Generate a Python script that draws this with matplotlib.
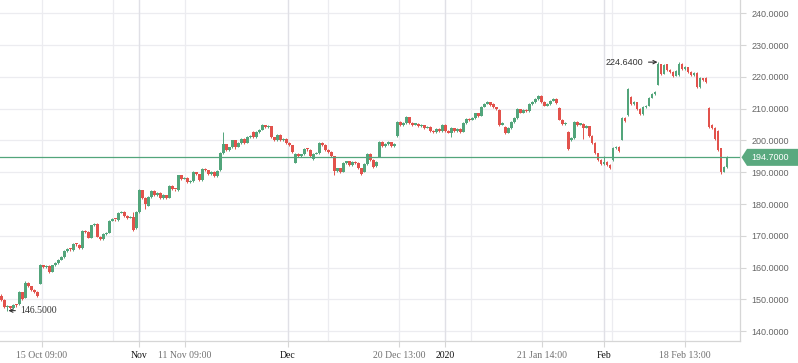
import matplotlib
matplotlib.use("Agg")
import matplotlib.pyplot as plt
from matplotlib.patches import Polygon
from matplotlib.transforms import IdentityTransform
import numpy as np

# candle data, one entry per bar
opens = [
    151.2, 149.8, 147.5, 147.8, 147.2, 148.3, 148.5, 152.3, 150.6, 155.3,
    154.2, 153.0, 152.4, 155.0, 160.8, 160.2, 160.6, 158.8, 160.7, 161.4,
    162.5, 163.4, 165.2, 165.9, 165.6, 167.5, 167.2, 166.1, 171.6, 171.2,
    169.4, 173.3, 173.8, 169.8, 169.0, 170.5, 171.0, 174.8, 175.2, 175.0,
    177.3, 177.5, 176.3, 175.7, 176.0, 172.5, 177.4, 184.3, 182.0, 179.5,
    182.2, 184.2, 182.8, 183.5, 181.8, 182.8, 182.0, 185.8, 184.6, 184.4,
    189.0, 188.0, 188.2, 186.8, 187.2, 190.0, 189.4, 187.5, 191.0, 190.6,
    189.4, 190.2, 188.7, 190.7, 196.0, 198.8, 197.0, 197.8, 200.0, 198.0,
    199.2, 200.5, 199.3, 201.0, 202.8, 201.0, 202.6, 203.4, 204.8, 204.2,
    204.5, 201.0, 200.0, 201.8, 200.0, 200.5, 199.3, 198.5, 193.0, 195.8,
    195.0, 195.6, 197.3, 197.0, 194.2, 195.8, 196.0, 199.2, 198.6, 197.0,
    196.4, 195.0, 190.3, 191.2, 190.2, 192.8, 193.4, 192.2, 193.3, 193.0,
    191.2, 190.2, 192.5, 195.8, 194.0, 192.0, 194.9, 199.5, 198.2, 198.8,
    199.4, 198.3, 201.4, 205.8, 204.8, 205.5, 207.3, 205.6, 205.0, 205.2,
    204.6, 204.8, 204.0, 204.4, 203.0, 202.6, 203.6, 203.0, 205.0, 203.0,
    202.5, 203.8, 203.0, 203.6, 202.8, 205.5, 206.9, 206.5, 207.0, 208.5,
    207.8, 210.6, 211.6, 212.0, 211.5, 210.4, 209.6, 205.0, 204.3, 202.4,
    203.8, 205.8, 207.0, 209.8, 208.8, 209.6, 209.2, 211.5, 212.0, 213.0,
    214.0, 212.2, 211.0, 211.4, 212.5, 213.2, 210.2, 206.6, 205.2, 202.8,
    200.2, 200.8, 205.8, 205.0, 205.3, 204.0, 204.5, 201.5, 199.2, 196.0,
    194.0, 192.5, 193.3, 192.4, 193.9, 197.6, 198.0, 200.2, 207.0, 208.0,
    213.8, 211.4, 212.0, 210.0, 208.3, 210.5, 211.0, 213.5, 214.6, 217.5,
    224.0, 221.0, 224.0, 222.2, 221.5, 220.4, 220.5, 224.2, 222.5, 223.0,
    221.6, 220.6, 221.2, 216.8, 219.6, 219.8, 210.2, 205.0, 204.0, 203.0,
    197.5, 190.2, 191.6,
]
highs = [
    151.6, 150.0, 148.2, 148.0, 148.6, 148.5, 152.6, 152.4, 155.7, 155.4,
    154.4, 153.2, 152.6, 161.1, 161.0, 160.9, 160.8, 161.0, 161.7, 162.8,
    163.7, 165.5, 166.3, 166.1, 167.9, 167.8, 167.4, 171.9, 171.9, 171.4,
    173.5, 174.0, 174.0, 170.0, 170.8, 171.3, 175.1, 175.5, 175.4, 177.6,
    177.8, 177.7, 176.5, 176.2, 177.5, 177.7, 184.6, 184.5, 182.2, 182.5,
    184.5, 184.4, 183.8, 183.7, 183.1, 183.0, 186.1, 186.0, 184.8, 189.3,
    189.2, 188.5, 188.4, 187.5, 190.3, 190.2, 189.6, 191.4, 191.3, 190.8,
    190.5, 190.4, 190.8, 196.3, 202.8, 199.0, 198.1, 200.3, 200.2, 199.5,
    200.8, 200.7, 201.3, 201.6, 203.0, 202.9, 203.7, 205.1, 205.0, 204.8,
    204.7, 201.2, 202.1, 202.0, 200.8, 200.7, 199.5, 198.7, 196.1, 196.0,
    195.9, 197.6, 197.5, 197.2, 196.1, 196.3, 199.6, 199.4, 198.8, 197.2,
    196.6, 195.2, 191.5, 191.4, 193.1, 193.7, 193.6, 193.6, 193.5, 193.2,
    191.4, 192.8, 196.1, 196.0, 194.2, 193.5, 199.8, 199.7, 199.1, 199.7,
    199.6, 199.2, 206.1, 206.0, 205.8, 207.6, 207.5, 205.8, 205.5, 205.4,
    205.1, 205.0, 204.7, 204.6, 203.2, 203.9, 203.8, 205.3, 205.2, 203.2,
    204.1, 204.0, 203.9, 203.8, 205.8, 207.2, 207.1, 207.3, 208.8, 208.7,
    210.9, 211.9, 212.3, 212.2, 211.7, 210.6, 209.8, 205.9, 204.5, 204.1,
    206.1, 207.3, 210.1, 210.0, 209.9, 209.8, 211.8, 212.3, 213.3, 214.3,
    214.2, 212.4, 211.7, 212.8, 213.5, 213.4, 210.4, 206.8, 205.9, 203.0,
    201.1, 206.1, 206.0, 205.6, 205.5, 204.8, 204.7, 201.7, 199.4, 196.2,
    194.2, 195.0, 193.5, 192.6, 197.9, 198.3, 198.2, 207.3, 207.5, 216.5,
    214.0, 212.3, 212.2, 210.2, 210.8, 211.3, 213.8, 214.9, 215.7, 224.64,
    224.2, 224.1, 224.2, 222.4, 221.7, 222.1, 224.6, 224.4, 223.3, 223.2,
    221.8, 221.5, 221.4, 219.9, 219.8, 220.0, 210.4, 205.2, 204.2, 203.2,
    197.7, 191.9, 195.0,
]
lows = [
    149.5, 147.2, 146.5, 146.9, 147.0, 147.6, 148.3, 149.9, 150.4, 153.9,
    152.8, 152.0, 150.9, 154.8, 159.9, 160.0, 158.2, 158.6, 160.5, 161.2,
    162.3, 163.2, 165.0, 165.3, 165.4, 166.9, 165.8, 166.0, 170.8, 169.2,
    169.2, 173.0, 169.5, 168.7, 168.8, 170.3, 170.8, 174.6, 174.7, 174.8,
    177.1, 176.0, 175.4, 175.5, 171.6, 172.3, 177.2, 181.7, 178.5, 179.3,
    182.0, 182.5, 182.6, 181.5, 181.6, 181.7, 181.8, 184.3, 184.1, 184.2,
    187.7, 187.8, 186.5, 186.6, 187.0, 189.1, 187.2, 187.3, 190.3, 189.1,
    189.2, 188.4, 188.5, 190.5, 195.8, 196.7, 196.8, 197.6, 197.3, 197.8,
    199.0, 199.0, 199.1, 200.8, 200.8, 200.8, 202.4, 203.2, 203.9, 204.0,
    200.7, 199.7, 199.8, 199.7, 199.8, 199.0, 198.2, 196.2, 192.8, 194.7,
    194.8, 195.4, 196.7, 194.9, 193.9, 195.6, 195.8, 198.3, 196.7, 196.1,
    194.9, 189.3, 190.0, 189.9, 190.0, 192.6, 191.9, 192.0, 192.5, 190.9,
    189.0, 190.0, 192.3, 193.7, 191.5, 191.8, 194.7, 197.9, 198.0, 198.6,
    198.0, 198.1, 201.2, 204.5, 204.6, 205.3, 205.3, 204.7, 204.8, 204.3,
    204.4, 203.7, 203.8, 202.7, 202.3, 202.4, 202.7, 202.8, 202.7, 202.2,
    201.2, 202.7, 202.8, 202.5, 202.6, 205.3, 206.2, 206.3, 206.8, 207.5,
    207.6, 210.4, 211.4, 211.0, 210.1, 209.7, 204.7, 204.8, 202.1, 202.2,
    203.6, 205.6, 206.8, 208.5, 208.6, 208.9, 209.0, 211.3, 211.8, 212.8,
    211.9, 210.7, 210.8, 211.2, 212.3, 211.5, 206.3, 204.9, 205.0, 196.9,
    199.9, 200.6, 204.7, 204.8, 200.5, 203.8, 201.2, 198.9, 195.7, 193.7,
    192.2, 192.3, 192.1, 191.0, 193.7, 197.4, 196.5, 200.0, 205.7, 207.8,
    211.1, 211.2, 209.7, 208.0, 208.1, 210.3, 210.8, 213.3, 214.4, 217.3,
    220.6, 220.8, 221.9, 221.2, 220.1, 220.2, 220.3, 222.2, 222.3, 221.3,
    220.3, 220.4, 216.5, 216.6, 218.7, 218.0, 203.9, 203.7, 200.2, 196.7,
    189.5, 190.0, 191.4,
]
closes = [
    149.8, 147.5, 147.8, 147.2, 148.3, 148.0, 152.3, 150.2, 155.3, 154.2,
    153.0, 152.4, 151.2, 160.8, 160.2, 160.6, 158.6, 160.7, 161.4, 162.5,
    163.4, 165.2, 165.9, 165.6, 167.5, 167.2, 166.1, 171.6, 171.2, 169.4,
    173.3, 173.8, 169.8, 169.0, 170.5, 171.0, 174.8, 175.2, 175.0, 177.3,
    177.5, 176.3, 175.7, 175.9, 172.0, 177.4, 184.3, 182.0, 180.0, 182.2,
    184.2, 182.8, 183.5, 181.8, 182.8, 182.0, 185.8, 184.6, 184.4, 189.0,
    188.0, 188.2, 186.8, 187.2, 190.0, 189.4, 187.5, 191.0, 190.6, 189.4,
    190.2, 188.7, 190.5, 196.0, 198.8, 197.0, 197.8, 200.0, 198.0, 199.2,
    200.5, 199.3, 201.0, 201.3, 201.0, 202.6, 203.4, 204.8, 204.2, 204.5,
    201.0, 200.0, 201.8, 200.0, 200.5, 199.3, 198.5, 196.5, 195.8, 195.0,
    195.6, 197.3, 197.0, 195.2, 195.8, 196.0, 199.2, 198.6, 197.0, 196.4,
    195.2, 190.3, 191.2, 190.2, 192.8, 193.4, 192.2, 193.3, 192.8, 191.2,
    189.6, 192.5, 195.8, 194.0, 191.8, 193.2, 199.5, 198.2, 198.8, 199.4,
    198.3, 198.9, 205.8, 204.8, 205.5, 207.3, 205.6, 205.0, 205.2, 204.6,
    204.8, 204.0, 204.4, 203.0, 202.6, 203.6, 203.0, 205.0, 203.0, 202.5,
    203.8, 203.0, 203.6, 202.8, 205.5, 206.9, 206.5, 207.0, 208.5, 207.8,
    210.6, 211.6, 212.0, 211.3, 210.4, 210.0, 205.0, 205.6, 202.4, 203.8,
    205.8, 207.0, 209.8, 208.8, 209.6, 209.2, 211.5, 212.0, 213.0, 214.0,
    212.2, 211.0, 211.4, 212.5, 213.2, 211.8, 206.6, 205.2, 205.6, 197.2,
    200.8, 205.8, 205.0, 205.3, 204.0, 204.5, 201.5, 199.2, 196.0, 194.0,
    192.5, 193.3, 192.4, 191.4, 197.6, 198.0, 196.8, 207.0, 206.0, 216.2,
    211.4, 212.0, 210.0, 208.3, 210.5, 211.0, 213.5, 214.6, 215.4, 224.0,
    221.0, 223.8, 222.2, 221.5, 220.4, 221.8, 224.2, 222.5, 223.0, 221.6,
    220.6, 221.2, 216.8, 219.6, 219.0, 218.3, 204.2, 204.0, 200.5, 197.0,
    190.0, 191.6, 194.7,
]

# x axis: bar index positions of the labelled ticks
tick_pos = [13.5, 45.8, 61.2, 95.5, 132.5, 147.8, 180.2, 200.8, 227.8]
tick_labels = ['15 Oct 09:00', 'Nov', '11 Nov 09:00', 'Dec', '20 Dec 13:00',
               '2020', '21 Jan 14:00', 'Feb', '18 Feb 13:00']
month_ticks = ['Nov', 'Dec', '2020', 'Feb']
extra_grid = [37.2, 108.8, 156.5, 203.5]
y_ticks = [140, 150, 160, 170, 180, 190, 200, 210, 220, 230, 240]

green = '#52a57b'
red = '#e2524c'
grid_c = '#ececf0'

W, H = 798, 363
fig = plt.figure(figsize=(W / 100, H / 100), dpi=100)
ax = fig.add_axes([0, 22 / H, 740 / W, 341 / H])

o = np.array(opens)
c = np.array(closes)
x = np.arange(len(o))
cols = np.where(c >= o, green, red)

ax.vlines(x, lows, highs, colors=cols, linewidth=0.7, zorder=3)
body = np.where(np.abs(c - o) < 0.35, 0.35, c - o)
ax.bar(x, body, bottom=o, width=0.72, color=cols, linewidth=0, zorder=3)

ax.set_xlim(-0.5, 246.2)
ax.set_ylim(136.95, 244.18)

# grid
ax.set_yticks(y_ticks)
ax.set_yticklabels([f'{v:.4f}' for v in y_ticks])
ax.set_xticks(tick_pos)
ax.set_xticklabels(tick_labels)
ax.set_xticks(extra_grid, minor=True)
ax.grid(True, which='both', color=grid_c, linewidth=0.9, zorder=0)
for p, lab in zip(tick_pos, tick_labels):
    if lab in month_ticks:
        ax.axvline(p, color='#e0e0e6', linewidth=0.9, zorder=1)
ax.set_axisbelow(True)

for s in ['top', 'left']:
    ax.spines[s].set_visible(False)
for s in ['right', 'bottom']:
    ax.spines[s].set_color('#d6d6d6')
    ax.spines[s].set_linewidth(0.9)

ax.yaxis.tick_right()
ax.tick_params(axis='y', length=4, color='#d6d6d6', pad=4, labelsize=6.5,
               labelcolor='#666666')
ax.tick_params(axis='x', which='major', length=4, color='#d6d6d6', pad=3)
ax.tick_params(axis='x', which='minor', length=0)
for t in ax.get_yticklabels():
    t.set_fontfamily('Liberation Sans')
for t in ax.get_xticklabels():
    t.set_fontfamily('Liberation Serif')
    t.set_fontsize(7)
    t.set_color('#111111' if t.get_text() in month_ticks else '#707070')

# last price line and tag
last = closes[-1]
ax.axhline(last, color=green, linewidth=0.9, zorder=4)
fig.canvas.draw()
yd = ax.transData.transform((0, last))[1]
tag = Polygon([(741.5, yd), (747, yd + 8.5), (798, yd + 8.5), (798, yd - 8.5), (747, yd - 8.5)],
              closed=True, facecolor='#5aa97f', edgecolor='none',
              transform=IdentityTransform(), figure=fig)
fig.patches.append(tag)
fig.text(751 / W, yd / H, f'{last:.4f}', color='white', fontsize=6.5,
         family='Liberation Sans', va='center', ha='left')

# min / max annotations
i_lo = int(np.argmin(lows))
i_hi = int(np.argmax(highs))
ax.annotate(f'{lows[i_lo]:.4f}', xy=(i_lo + 0.3, lows[i_lo]), xytext=(8.5, 0),
            textcoords='offset points', va='center', ha='left', fontsize=7,
            family='Liberation Serif', color='#333333',
            arrowprops=dict(arrowstyle='->', color='#333333', lw=0.8,
                            shrinkA=1.5, shrinkB=0, mutation_scale=6))
ax.annotate(f'{highs[i_hi]:.4f}', xy=(i_hi - 0.3, highs[i_hi]), xytext=(-10, 0),
            textcoords='offset points', va='center', ha='right', fontsize=6.5,
            family='Liberation Sans', color='#333333',
            arrowprops=dict(arrowstyle='->', color='#333333', lw=0.8,
                            shrinkA=1.5, shrinkB=0, mutation_scale=6))

fig.savefig('out.png', dpi=100, facecolor='white')
